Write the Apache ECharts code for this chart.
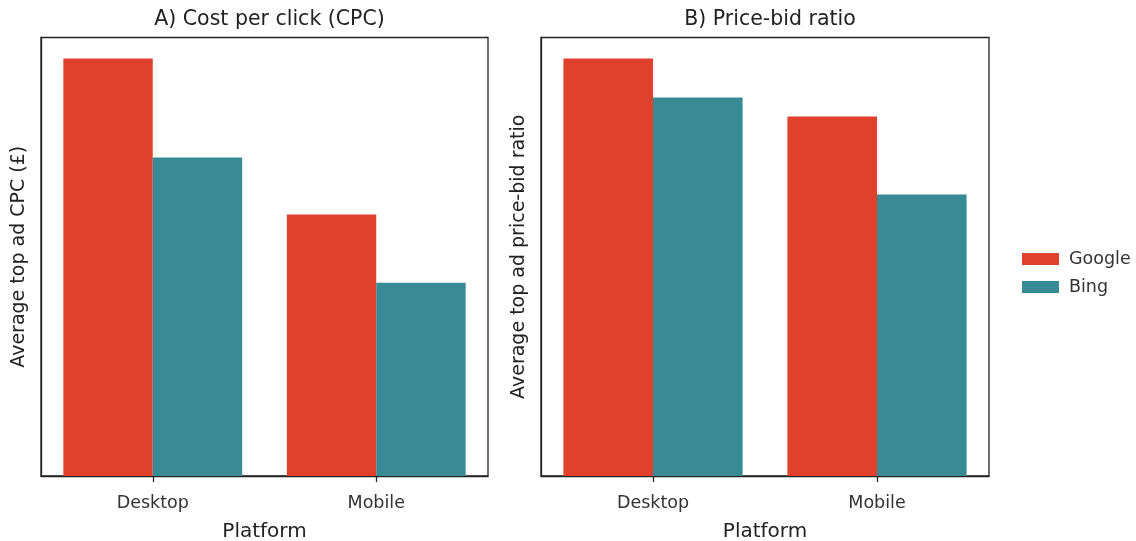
<!DOCTYPE html>
<html>
<head>
<meta charset="utf-8">
<script src="https://cdn.jsdelivr.net/npm/echarts@6/dist/echarts.min.js"></script>
<style>
html,body{margin:0;padding:0;background:#fff;}
#chart{width:1136px;height:541px;}
</style>
</head>
<body>
<div id="chart"></div>
<script>
const categories = ['Desktop', 'Mobile'];
const seriesNames = ['Google', 'Bing'];
const cpcGoogle = [4.17, 2.61];
const cpcBing = [3.18, 1.93];
const ratioGoogle = [4.17, 3.59];
const ratioBing = [3.78, 2.81];
const panelTitles = ['A) Cost per click (CPC)', 'B) Price-bid ratio'];
const yLabels = ['Average top ad CPC (£)', 'Average top ad price-bid ratio'];
const xLabel = 'Platform';

const colors = ['#E0412C', '#388A94'];
const FONT = 'DejaVu Sans';
const chart = echarts.init(document.getElementById('chart'), null, {renderer: 'canvas'});

const grids = [
  {left: 41, top: 37.5, width: 447, height: 438.5},
  {left: 541, top: 37.5, width: 448, height: 438.5}
];

function xAxis(i) {
  return {
    type: 'category', gridIndex: i, data: categories,
    name: xLabel, nameLocation: 'middle', nameGap: 46,
    nameTextStyle: {fontFamily: FONT, fontSize: 20, color: '#222'},
    axisLine: {show: true, lineStyle: {color: '#222', width: 1.3}},
    axisTick: {show: true, alignWithLabel: true, length: 6, lineStyle: {color: '#222', width: 1.3}},
    axisLabel: {fontFamily: FONT, fontSize: 17.5, color: '#333', margin: 18},
    splitLine: {show: false}
  };
}
function yAxis(i) {
  return {
    type: 'value', gridIndex: i, min: 0,
    max: function (v) { return v.max * 1.05; },
    name: yLabels[i], nameLocation: 'middle', nameGap: 12,
    nameTextStyle: {fontFamily: FONT, fontSize: 19, color: '#222'},
    axisLine: {show: true, lineStyle: {color: '#222', width: 1.3}},
    axisTick: {show: false}, axisLabel: {show: false}, splitLine: {show: false}
  };
}

const option = {
  animation: false,
  backgroundColor: '#fff',
  color: colors,
  title: grids.map((g, i) => ({
    text: panelTitles[i], left: g.left + g.width / 2, top: 4, textAlign: 'center',
    textStyle: {fontFamily: FONT, fontSize: 20.5, fontWeight: 'normal', color: '#222'}
  })),
  legend: {
    data: seriesNames, orient: 'vertical', left: 1017, top: 245,
    icon: 'rect', itemWidth: 37, itemHeight: 12, itemGap: 10,
    textStyle: {fontFamily: FONT, fontSize: 17.5, color: '#333', padding: [0, 0, 0, 5]}
  },
  grid: grids.map(g => Object.assign({show: true, borderColor: '#222', borderWidth: 1.3, backgroundColor: 'transparent', containLabel: false, outerBoundsMode: 'none'}, g)),
  xAxis: [xAxis(0), xAxis(1)],
  yAxis: [yAxis(0), yAxis(1)],
  series: [
    {name: seriesNames[0], type: 'bar', xAxisIndex: 0, yAxisIndex: 0, data: cpcGoogle, barWidth: '40%', barGap: '0%'},
    {name: seriesNames[1], type: 'bar', xAxisIndex: 0, yAxisIndex: 0, data: cpcBing, barWidth: '40%', barGap: '0%'},
    {name: seriesNames[0], type: 'bar', xAxisIndex: 1, yAxisIndex: 1, data: ratioGoogle, barWidth: '40%', barGap: '0%'},
    {name: seriesNames[1], type: 'bar', xAxisIndex: 1, yAxisIndex: 1, data: ratioBing, barWidth: '40%', barGap: '0%'}
  ]
};
chart.setOption(option);
</script>
</body>
</html>
